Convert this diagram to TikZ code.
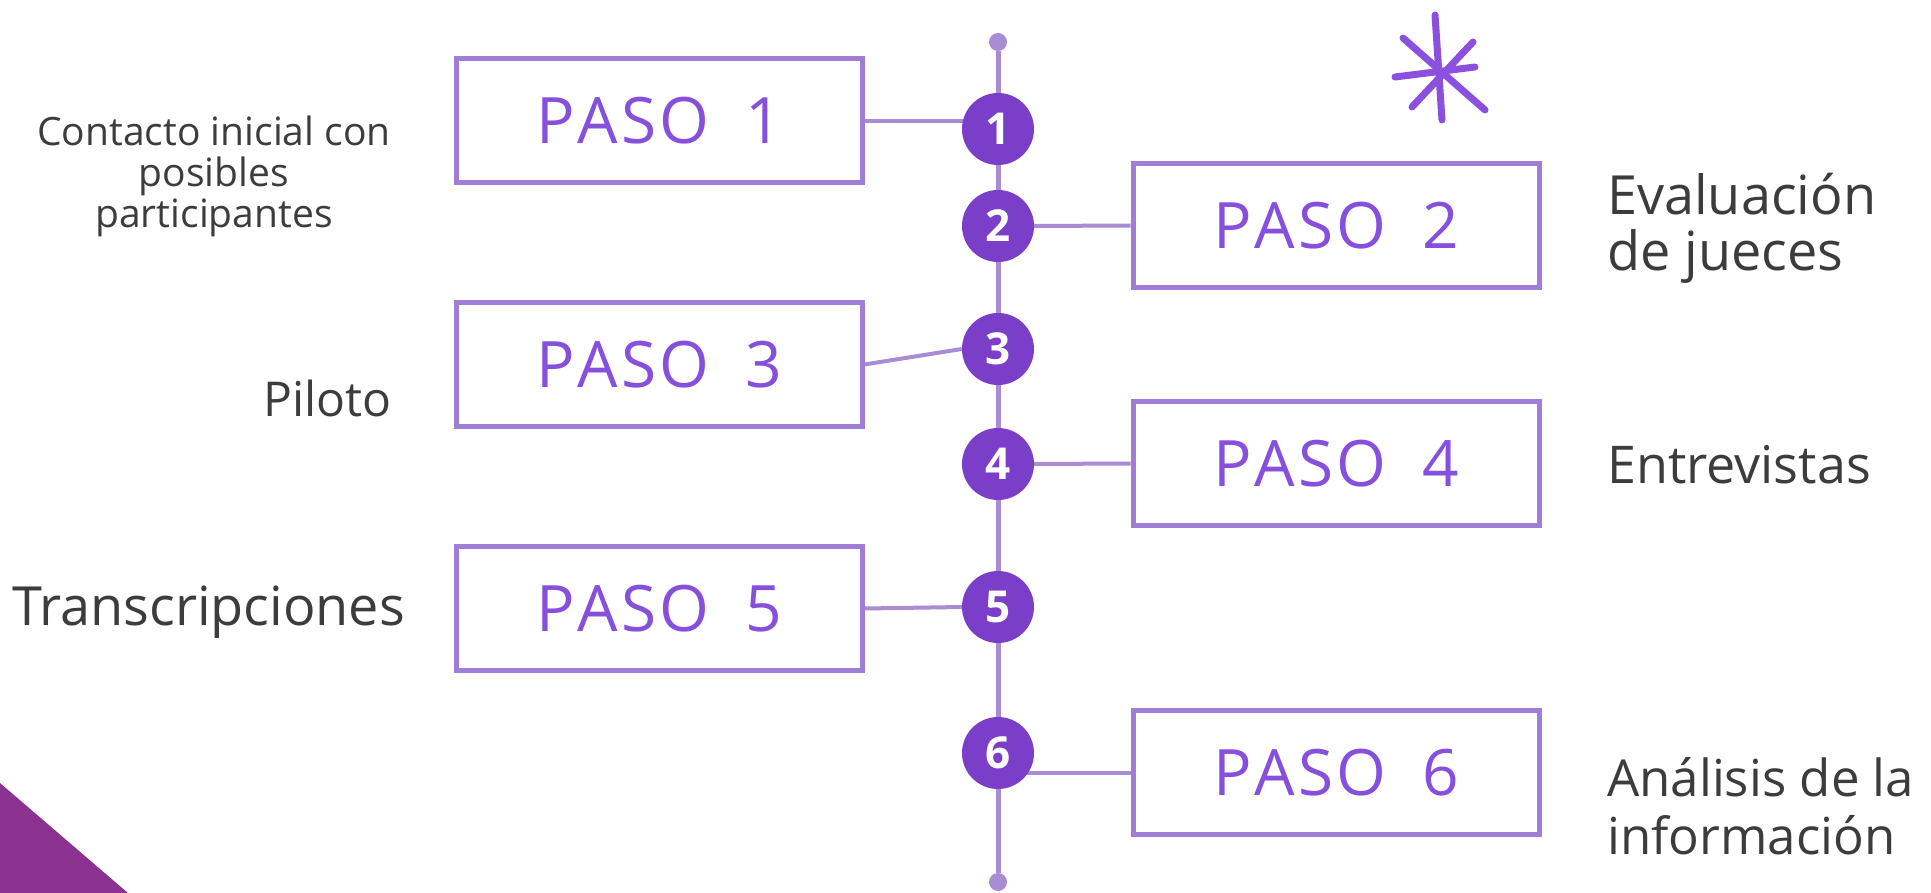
\documentclass[tikz,border=0pt]{standalone}
\usepackage{fontspec}
\setmainfont{Open Sans}
\usetikzlibrary{backgrounds}
\definecolor{boxc}{RGB}{160,125,215}
\definecolor{pasoc}{RGB}{135,80,220}
\definecolor{circc}{RGB}{122,62,200}
\definecolor{linec}{RGB}{170,140,212}
\definecolor{triac}{RGB}{139,49,144}
\definecolor{labc}{RGB}{60,60,60}
\definecolor{starc}{RGB}{140,80,222}
\newcommand{\pasotxt}[1]{P\hspace{3pt}A\hspace{3pt}S\hspace{3pt}O\hspace{36pt}#1}
\begin{document}
\begin{tikzpicture}[x=1pt,y=-1pt,
 stepbox/.style={draw=boxc,line width=5pt,minimum width=406pt,minimum height=124pt,inner sep=0pt,text=pasoc,font=\fontsize{64}{66}\selectfont},
 num/.style={circle,fill=circc,minimum size=72pt,inner sep=0pt,text=white,font=\fontsize{44}{44}\selectfont\bfseries},
 dot/.style={circle,fill=linec,minimum size=18pt,inner sep=0pt},
 conn/.style={draw=linec,line width=4pt},
 lab/.style={text=labc,inner sep=0pt,font=\fontsize{52}{56}\selectfont},
 star/.style={draw=starc,line width=7pt,line cap=round},
 ]
\useasboundingbox (0,0) rectangle (1931,893);
% triangle
\fill[triac] (0,783) -- (128,893) -- (0,893) -- cycle;
% timeline nodes
\node[dot] (top) at (998,42) {};
\node[dot] (bot) at (998,882) {};
\node[num] (c1) at (998,129) {1};
\node[num] (c2) at (998,226) {2};
\node[num] (c3) at (998,349) {3};
\node[num] (c4) at (998,464) {4};
\node[num] (c5) at (998,607) {5};
\node[num] (c6) at (998,753) {6};
% boxes
\node[stepbox] (b1) at (659,121) {\pasotxt{1}};
\node[stepbox] (b2) at (1336,225.5) {\pasotxt{2}};
\node[stepbox] (b3) at (659,364.5) {\pasotxt{3}};
\node[stepbox] (b4) at (1336,463.5) {\pasotxt{4}};
\node[stepbox] (b5) at (659,608.5) {\pasotxt{5}};
\node[stepbox] (b6) at (1336,772.5) {\pasotxt{6}};
% connectors
\begin{scope}[on background layer]
\draw[conn,line width=5pt] (top) -- (c1) -- (c2) -- (c3) -- (c4) -- (c5) -- (c6) -- (bot);
\draw[conn] (b1.east) -- (b1.east -| c1);
\draw[conn] (c2.east) -- (b2.west);
\draw[conn] (b3.east) -- (c3.west);
\draw[conn] (c4.east) -- (b4.west);
\draw[conn] (b5.east) -- (c5.west);
\draw[conn] (b6.west) -- (b6.west -| c6);
\end{scope}
% labels
\node[lab,font=\fontsize{39}{41}\selectfont,align=center] (l1) at (214,176) {Contacto inicial con\\posibles\\participantes};
\node[lab,anchor=west,align=left,font=\fontsize{54}{56}\selectfont] (l2) at (1607,228) {Evaluación\\de jueces};
\node[lab,anchor=east,font=\fontsize{48}{50}\selectfont] (l3) at (392,398) {Piloto};
\node[lab,anchor=west] (l4) at (1607,465) {Entrevistas};
\node[lab,anchor=west,font=\fontsize{54}{56}\selectfont] (l5) at (12,612) {Transcripciones};
\node[lab,anchor=west,align=left,font=\fontsize{51}{58}\selectfont] (l6) at (1607,806) {Análisis de la\\información};
% asterisk
\draw[star] (1435,15) -- (1442,120);
\draw[star] (1403,38) -- (1485,110);
\draw[star] (1473,42) -- (1412,107);
\draw[star] (1395,77) -- (1475,67);
\end{tikzpicture}
\end{document}
